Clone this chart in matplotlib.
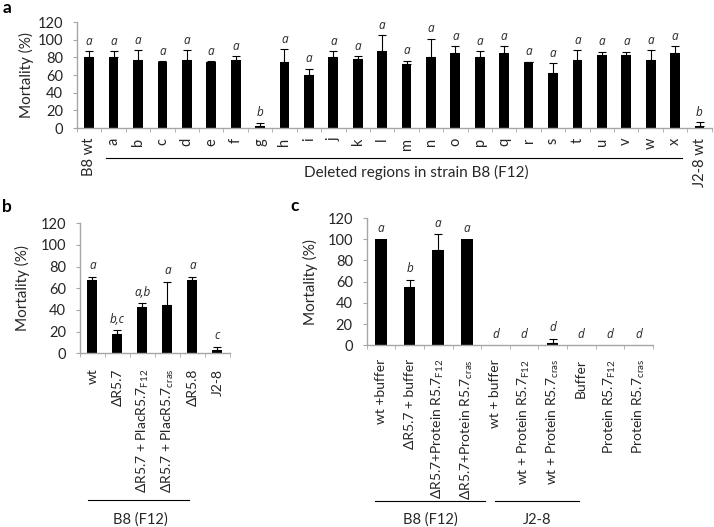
import matplotlib
matplotlib.use('Agg')
import matplotlib.pyplot as plt
import matplotlib.transforms as mtransforms
import numpy as np

plt.rcParams['font.family'] = ['Lato', 'DejaVu Sans']
plt.rcParams['mathtext.fontset'] = 'custom'
plt.rcParams['mathtext.rm'] = 'Lato'

# ---- data, panel a ----
a_labels = ['B8 wt', 'a', 'b', 'c', 'd', 'e', 'f', 'g', 'h', 'i', 'j', 'k', 'l',
            'm', 'n', 'o', 'p', 'q', 'r', 's', 't', 'u', 'v', 'w', 'x', 'J2-8 wt']
a_values = [80, 80, 77.5, 75, 77.5, 75, 77.5, 2, 75, 60, 80, 78, 87,
            72.5, 80, 85, 80, 85, 75, 62.5, 77.5, 82.5, 82.5, 77.5, 85, 2.5]
a_errors = [7, 7, 10.5, 0.5, 10.5, 0.5, 4, 4, 14, 7, 7, 3.5, 18,
            4, 21, 7.5, 7, 7.5, 0.3, 11, 10.5, 4, 4, 10.5, 7.5, 4]
a_groups = ['a'] * 7 + ['b'] + ['a'] * 17 + ['b']

# ---- data, panel b ----
b_labels = ['wt', 'ΔR5.7', r'ΔR5.7 + PlacR5.7$_{\mathregular{F12}}$',
            r'ΔR5.7 + PlacR5.7$_{\mathregular{cras}}$', 'ΔR5.8', 'J2-8']
b_values = [67.5, 17.5, 42.5, 45, 67.5, 2.8]
b_errors = [3.3, 3.7, 3.6, 21, 3.3, 3.3]
b_groups = ['a', 'b,c', 'a,b', 'a', 'a', 'c']

# ---- data, panel c ----
c_labels = ['wt +buffer', 'ΔR5.7 + buffer',
            r'ΔR5.7+Protein R5.7$_{\mathregular{F12}}$',
            r'ΔR5.7+Protein R5.7$_{\mathregular{cras}}$',
            'wt + buffer', r'wt + Protein R5.7$_{\mathregular{F12}}$',
            r'wt + Protein R5.7$_{\mathregular{cras}}$', 'Buffer',
            r'Protein R5.7$_{\mathregular{F12}}$', r'Protein R5.7$_{\mathregular{cras}}$']
c_values = [100, 55, 90, 100, 0, 0, 1.8, 0, 0, 0]
c_errors = [0, 7, 15, 0, 0, 0, 4.5, 0, 0, 0]
c_groups = ['a', 'b', 'a', 'a', 'd', 'd', 'd', 'd', 'd', 'd']

SPINE = '#a6a6a6'
TXT = '#262626'

fig = plt.figure(figsize=(7.14, 5.27), dpi=100)
ax_a = fig.add_axes([0.1078, 0.757, 0.889, 0.201])
ax_b = fig.add_axes([0.112, 0.3296, 0.210, 0.2467])
ax_c = fig.add_axes([0.5136, 0.3448, 0.4006, 0.2415])


def bar_panel(ax, labels, values, errors, groups, fs, pad):
    x = np.arange(len(labels))
    values = np.array(values, dtype=float)
    errors = np.array(errors, dtype=float)
    ax.bar(x, values, width=0.4, color='black', zorder=2)
    has = errors > 0
    ax.errorbar(x[has], values[has], yerr=[np.zeros(has.sum()), errors[has]],
                fmt='none', ecolor='black', elinewidth=0.8, capsize=2.8,
                capthick=0.8, zorder=3)
    for xi, v, e, g in zip(x, values, errors, groups):
        ax.text(xi, v + e + 4, g, ha='center', va='bottom', fontsize=8.5,
                style='italic', color=TXT, family=['Open Sans', 'DejaVu Sans'])
    ax.set_xlim(-0.5, len(labels) - 0.5)
    ax.set_ylim(0, 120)
    ax.set_yticks(range(0, 121, 20))
    ax.set_xticks(x)
    ax.set_xticklabels(labels, rotation=90, fontsize=fs, color=TXT)
    ax.set_xticks(np.arange(-0.5, len(labels)), minor=True)
    ax.tick_params(axis='x', which='major', length=0, pad=pad)
    ax.tick_params(axis='x', which='minor', length=3, color=SPINE, direction='out')
    ax.tick_params(axis='y', length=3, pad=7, color=SPINE, labelsize=10.5,
                   labelcolor=TXT)
    for s in ['top', 'right']:
        ax.spines[s].set_visible(False)
    for s in ['left', 'bottom']:
        ax.spines[s].set_color(SPINE)
        ax.spines[s].set_linewidth(1.0)
    ax.set_ylabel('Mortality (%)', fontsize=11, color=TXT)


def group_line(ax, x0, x1, y, text, tx, ty, fs):
    tr = mtransforms.blended_transform_factory(ax.transData, ax.transAxes)
    ax.plot([x0, x1], [y, y], color='black', lw=0.8, transform=tr, clip_on=False)
    ax.text(tx, ty, text, transform=tr, ha='center', va='center', fontsize=fs, color=TXT)


bar_panel(ax_a, a_labels, a_values, a_errors, a_groups, 10.5, 7)
ax_a.yaxis.set_label_coords(-0.068, 0.5)
group_line(ax_a, 0.7, 24.3, -0.283, 'Deleted regions in strain B8 (F12)', 13.4, -0.415, 11)

bar_panel(ax_b, b_labels, b_values, b_errors, b_groups, 10, 11)
ax_b.yaxis.set_label_coords(-0.33, 0.5)
group_line(ax_b, -0.18, 3.86, -1.128, 'B8 (F12)', 1.9, -1.28, 10.5)

bar_panel(ax_c, c_labels, c_values, c_errors, c_groups, 10, 10)
ax_c.yaxis.set_label_coords(-0.17, 0.5)
group_line(ax_c, -0.21, 3.64, -1.223, 'B8 (F12)', 1.71, -1.37, 10.5)
group_line(ax_c, 3.99, 6.92, -1.223, 'J2-8', 5.46, -1.37, 10.5)

fig.text(0.003, 0.985, 'a', fontsize=12.5, fontweight='bold', va='center', ha='left')
fig.text(0.003, 0.607, 'b', fontsize=12.5, fontweight='bold', va='center', ha='left')
fig.text(0.413, 0.609, 'c', fontsize=12.5, fontweight='bold', va='center', ha='center')

fig.savefig('out.png', dpi=100)
